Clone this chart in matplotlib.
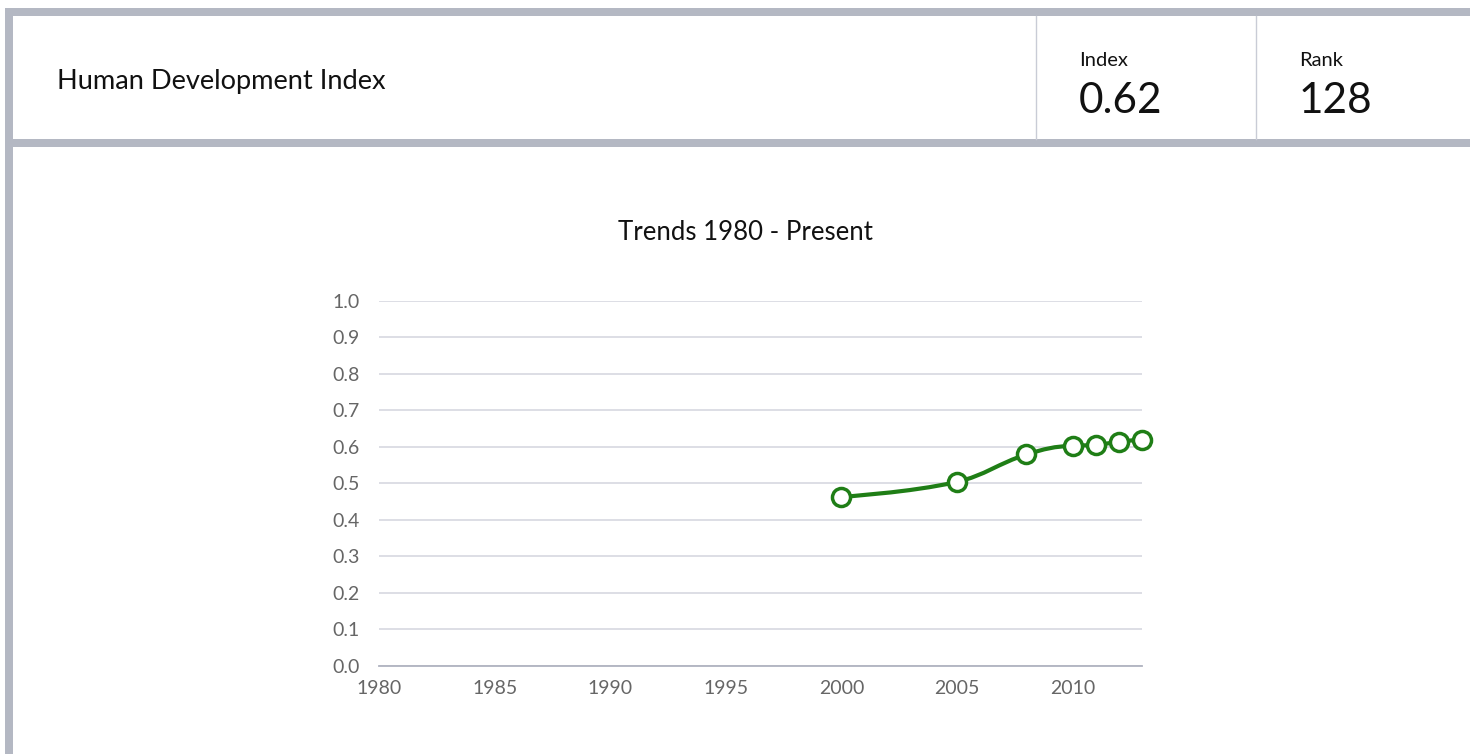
import numpy as np
import matplotlib.pyplot as plt
from matplotlib.path import Path
from matplotlib.patches import PathPatch, Rectangle

# Data
years = [2000, 2005, 2008, 2010, 2011, 2012, 2013]
hdi = [0.463, 0.504, 0.579, 0.603, 0.605, 0.614, 0.620]
x_ticks = [1980, 1985, 1990, 1995, 2000, 2005, 2010]
y_ticks = [0.0, 0.1, 0.2, 0.3, 0.4, 0.5, 0.6, 0.7, 0.8, 0.9, 1.0]
header_title = 'Human Development Index'
stat_labels = ['Index', 'Rank']
stat_values = ['0.62', '128']
chart_title = 'Trends 1980 - Present'

W, H = 1470, 755
FONT = 'Lato'
BORDER = '#b4b8c3'
GREEN = '#1f7e16'

plt.rcParams['font.family'] = [FONT, 'DejaVu Sans']


def spline_path(xs, ys, smoothing=1.5):
	"""Highcharts-style spline through the points (cubic Bezier segments)."""
	denom = smoothing + 1
	n = len(xs)
	right = [None] * n
	verts = [(xs[0], ys[0])]
	codes = [Path.MOVETO]
	for i in range(1, n):
		px, py = xs[i], ys[i]
		lx, ly = xs[i - 1], ys[i - 1]
		lcx, lcy = px, py
		if i < n - 1:
			nx, ny = xs[i + 1], ys[i + 1]
			lcx = (smoothing * px + lx) / denom
			lcy = (smoothing * py + ly) / denom
			rcx = (smoothing * px + nx) / denom
			rcy = (smoothing * py + ny) / denom
			corr = 0.0
			if rcx != lcx:
				corr = (rcy - lcy) * (rcx - px) / (rcx - lcx) + py - rcy
			lcy += corr
			rcy += corr
			if lcy > ly and lcy > py:
				lcy = max(ly, py)
				rcy = 2 * py - lcy
			elif lcy < ly and lcy < py:
				lcy = min(ly, py)
				rcy = 2 * py - lcy
			if rcy > ny and rcy > py:
				rcy = max(ny, py)
				lcy = 2 * py - rcy
			elif rcy < ny and rcy < py:
				rcy = min(ny, py)
				lcy = 2 * py - rcy
			right[i] = (rcx, rcy)
		c1 = right[i - 1] if right[i - 1] is not None else (lx, ly)
		verts += [c1, (lcx, lcy), (px, py)]
		codes += [Path.CURVE4] * 3
	return Path(verts, codes)


fig = plt.figure(figsize=(W / 100, H / 100), dpi=100)
fig.patch.set_facecolor('white')

# Background layer in pixel coordinates for the frame and header
bg = fig.add_axes([0, 0, 1, 1], zorder=0)
bg.set_xlim(0, W)
bg.set_ylim(H, 0)
bg.axis('off')
bg.add_patch(Rectangle((5, 8), W - 5, 8, color=BORDER, lw=0))
bg.add_patch(Rectangle((5, 139), W - 5, 8, color=BORDER, lw=0))
bg.add_patch(Rectangle((5, 8), 8, H - 9, color=BORDER, lw=0))
for xd in [1036.5, 1256.5]:
	bg.plot([xd, xd], [16, 139], color='#c9ccd6', lw=1)

bg.text(57, 82, header_title, fontsize=19.6, color='#111111', va='center', ha='left')
for x0, lab, val in zip([1079, 1299], stat_labels, stat_values):
	bg.text(x0, 61, lab, fontsize=14.5, color='#111111', va='center', ha='left')
	bg.text(x0, 101, val, fontsize=30.5, color='#111111', va='center', ha='left')

bg.text(745, 232, chart_title, fontsize=18.5, color='#111111', va='center', ha='center')

# Chart
ax = fig.add_axes([379 / W, 1 - 666 / H, (1142 - 379) / W, (666 - 300.7) / H], zorder=2)
ax.set_facecolor('none')
ax.set_xlim(1980, 2013)
ax.set_ylim(0, 1.0)
ax.set_xticks(x_ticks)
ax.set_yticks(y_ticks)
ax.set_yticklabels([f'{v:.1f}' for v in y_ticks])
for s in ['top', 'right', 'left']:
	ax.spines[s].set_visible(False)
ax.spines['bottom'].set_color('#b0b3c0')
ax.spines['bottom'].set_linewidth(1.3)
ax.grid(axis='y', color='#d3d4de', lw=1.1)
ax.set_axisbelow(True)
ax.tick_params(axis='both', length=0, labelsize=14, labelcolor='#666666')
ax.tick_params(axis='y', pad=14)
ax.tick_params(axis='x', pad=10)

ax.add_patch(PathPatch(spline_path(years, hdi), fill=False, edgecolor=GREEN, lw=3, zorder=3, clip_on=False))
ax.plot(years, hdi, ls='none', marker='o', markersize=13, markerfacecolor='white',
		markeredgecolor=GREEN, markeredgewidth=2.5, zorder=4, clip_on=False)

plt.savefig('out.png', dpi=100)
